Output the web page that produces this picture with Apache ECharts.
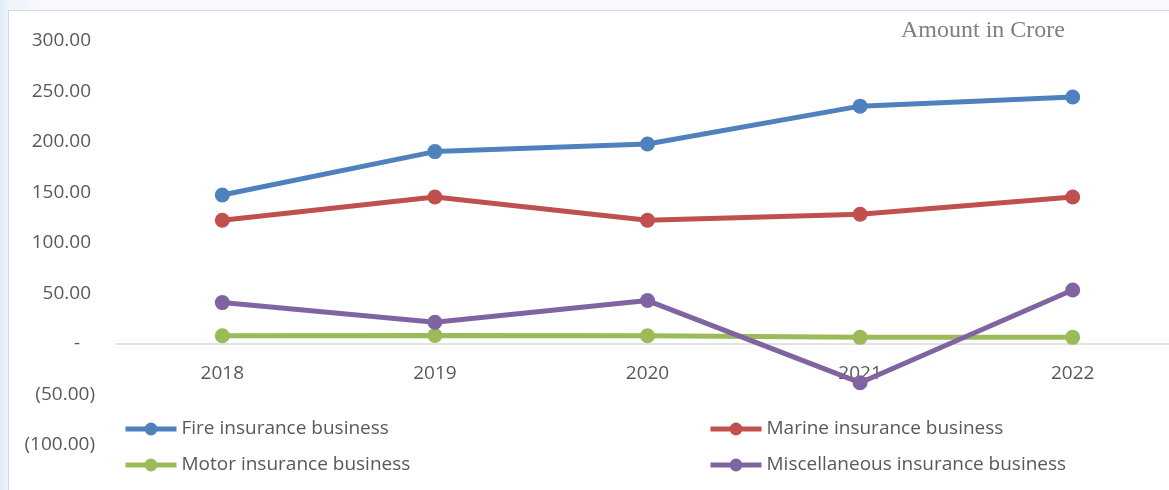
<!DOCTYPE html>
<html>
<head>
<meta charset="utf-8">
<script src="https://cdn.jsdelivr.net/npm/echarts@6/dist/echarts.min.js"></script>
<style>
  html, body { margin:0; padding:0; width:1169px; height:490px; overflow:hidden;
    background: linear-gradient(to right, #e2edf8 0px, #eef4fa 8px, #f7f9fc 40px, #f7f9fc 100%); }
  #frame { position:absolute; left:8px; top:10px; width:1200px; height:500px; background:#fff; border:1.5px solid #d9d9d9; }
  #chart { position:absolute; left:0; top:0; width:1169px; height:490px; }
</style>
</head>
<body>
<div id="frame"></div>
<div id="chart"></div>
<script>
const years = ['2018', '2019', '2020', '2021', '2022'];
const fire = [147.5, 190.5, 198, 235.5, 244.5];
const marine = [122.5, 145.5, 122.5, 128.5, 145.5];
const motor = [8.2, 8.5, 8.2, 6.6, 6.6];
const misc = [41, 21.5, 43, -38.3, 53.5];
const seriesNames = ['Fire insurance business', 'Marine insurance business', 'Motor insurance business', 'Miscellaneous insurance business'];
const colors = ['#4f81bd', '#c0504d', '#9bbb59', '#8064a2'];
const yMin = -100, yMax = 300, yStep = 50;
const unitNote = 'Amount in Crore';

const chart = echarts.init(document.getElementById('chart'), null, { renderer: 'canvas' });
const font = '"Open Sans", sans-serif';
const grey = '#595959';
const gridTop = 41, gridHeight = 404;
const zeroOffset = gridHeight * (0 - yMin) / (yMax - yMin);
function mk(name, data, color) {
  return {
    name, type: 'line', data, color,
    symbol: 'circle', symbolSize: 15,
    lineStyle: { width: 5, color },
    itemStyle: { color },
    emphasis: { disabled: true },
    animation: false
  };
}
const legendCommon = {
  orient: 'vertical', top: 417, padding: 0,
  itemWidth: 51, itemHeight: 16, itemGap: 12, itemTextGap: 5,
  lineStyle: { width: 5 },
  textStyle: { color: grey, fontFamily: font, fontSize: 19, lineHeight: 24 }
};
chart.setOption({
  animation: false,
  grid: { left: 116, top: gridTop, width: 1063, height: gridHeight, containLabel: false, outerBoundsMode: 'none' },
  xAxis: {
    type: 'category', data: years, boundaryGap: true,
    offset: -zeroOffset,
    axisLine: { onZero: false, lineStyle: { color: '#d9d9d9', width: 1.5 } },
    axisTick: { show: false },
    axisLabel: { margin: 20, color: grey, fontFamily: font, fontSize: 19 },
    z: 1
  },
  yAxis: {
    type: 'value', min: yMin, max: yMax, interval: yStep,
    axisLine: { show: false }, axisTick: { show: false }, splitLine: { show: false },
    axisLabel: {
      margin: 21, color: grey, fontFamily: font, fontSize: 19,
      formatter: function (v) {
        if (v === 0) return '{z|-}';
        if (v < 0) return '{n|(' + Math.abs(v).toFixed(2) + ')}';
        return '{p|' + v.toFixed(2) + '}';
      },
      rich: {
        p: { color: grey, fontFamily: font, fontSize: 19, padding: [0, 4, 0, 0] },
        n: { color: grey, fontFamily: font, fontSize: 19 },
        z: { color: grey, fontFamily: font, fontSize: 19, padding: [0, 15, 0, 0] }
      }
    }
  },
  legend: [
    Object.assign({ data: [seriesNames[0], seriesNames[2]], left: 123 }, legendCommon),
    Object.assign({ data: [seriesNames[1], seriesNames[3]], left: 708 }, legendCommon)
  ],
  graphic: [
    { type: 'text', left: 901, top: 19,
      style: { text: unitNote, fontFamily: '"Liberation Serif", "Times New Roman", serif', fontSize: 24, fill: '#7f7f7f' } }
  ],
  series: [
    mk(seriesNames[0], fire, colors[0]),
    mk(seriesNames[1], marine, colors[1]),
    mk(seriesNames[2], motor, colors[2]),
    mk(seriesNames[3], misc, colors[3])
  ]
});
</script>
</body>
</html>
